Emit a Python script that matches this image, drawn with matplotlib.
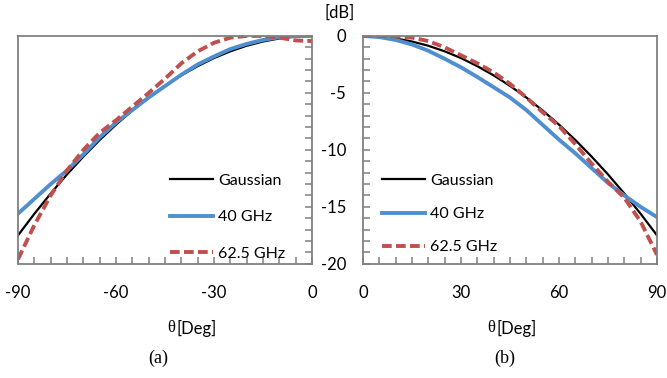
import numpy as np
import matplotlib.pyplot as plt
from matplotlib.ticker import MultipleLocator

# data (dB vs theta in degrees)
theta_a = [-90, -85, -80, -75, -70, -65, -60, -55, -50, -45, -40, -35, -30, -25, -20, -15, -10, -5, 0]
gauss_a = [-17.5, -15.61, -13.83, -12.15, -10.59, -9.13, -7.78, -6.54, -5.40, -4.38, -3.46, -2.65,
           -1.94, -1.35, -0.86, -0.49, -0.22, -0.05, 0]
ghz40_a = [-15.6, -14.3, -13.0, -11.8, -10.4, -8.9, -7.6, -6.5, -5.4, -4.4, -3.4, -2.5,
           -1.8, -1.15, -0.7, -0.35, -0.12, -0.02, 0]
ghz625_a = [-19.6, -16.6, -14.0, -11.8, -10.0, -8.5, -7.4, -6.2, -5.0, -3.75, -2.4, -1.35,
            -0.6, -0.15, 0, 0, -0.15, -0.4, -0.45]

theta_b = [0, 5, 10, 15, 20, 25, 30, 35, 40, 45, 50, 55, 60, 65, 70, 75, 80, 85, 90]
gauss_b = [0, -0.05, -0.22, -0.49, -0.86, -1.35, -1.94, -2.65, -3.46, -4.38, -5.40, -6.54,
           -7.78, -9.13, -10.59, -12.15, -13.83, -15.61, -17.5]
ghz40_b = [0, -0.1, -0.35, -0.75, -1.3, -2.0, -2.75, -3.6, -4.5, -5.4, -6.5, -7.8,
           -9.1, -10.3, -11.6, -12.9, -14.0, -15.0, -15.9]
ghz625_b = [0, 0, -0.05, -0.15, -0.45, -1.0, -1.7, -2.4, -3.2, -4.2, -5.4, -6.7,
            -7.9, -9.5, -11.2, -12.8, -14.2, -16.3, -19.2]

labels = ["Gaussian", "40 GHz", "62.5 GHz"]

plt.rcParams['font.family'] = ['Lato', 'DejaVu Sans']
plt.rcParams['axes.unicode_minus'] = False
spine_c = '#808080'

fig = plt.figure(figsize=(6.67, 3.78), dpi=100)
ax1 = fig.add_axes([0.027, 0.302, 0.441, 0.603])
ax2 = fig.add_axes([0.544, 0.302, 0.441, 0.603])

for ax, th, g, b, r in [(ax1, theta_a, gauss_a, ghz40_a, ghz625_a),
                        (ax2, theta_b, gauss_b, ghz40_b, ghz625_b)]:
    ax.plot(th, g, color='black', lw=1.6, label=labels[0])
    ax.plot(th, b, color='#4f8fd0', lw=2.8, label=labels[1])
    ax.plot(th, r, color='#c0504d', lw=2.8, ls=(0, (2.5, 1.1)), label=labels[2])
    ax.set_ylim(-20, 0)
    ax.xaxis.set_major_locator(MultipleLocator(30))
    ax.xaxis.set_minor_locator(MultipleLocator(5))
    ax.yaxis.set_major_locator(MultipleLocator(5))
    ax.yaxis.set_minor_locator(MultipleLocator(1))
    ax.tick_params(which='major', direction='in', length=5, width=1.1, color=spine_c, labelsize=12)
    ax.tick_params(which='minor', direction='in', length=5, width=1.1, color=spine_c)
    for s in ax.spines.values():
        s.set_color(spine_c)
        s.set_linewidth(1.3)

ax1.set_xlim(-90, 0)
ax2.set_xlim(0, 90)

# left panel: y ticks on the right spine, no labels
ax1.yaxis.set_ticks_position('right')
ax1.tick_params(axis='y', which='both', labelright=False, labelleft=False)
ax1.tick_params(axis='x', which='major', pad=15)
ax2.tick_params(axis='x', which='major', pad=15)
ax2.tick_params(axis='y', which='major', pad=12)

ax1.legend(loc='upper left', bbox_to_anchor=(0.517, 0.396), frameon=False, fontsize=11.5,
           borderpad=0, borderaxespad=0, handlelength=2.7, handletextpad=0.3, labelspacing=1.4)
ax2.legend(loc='upper left', bbox_to_anchor=(0.065, 0.396), frameon=False, fontsize=11.5,
           borderpad=0, borderaxespad=0, handlelength=2.7, handletextpad=0.3, labelspacing=1.2)

fig.text(340 / 667, 1 - 13 / 378, "[dB]", fontsize=12, ha='center', va='center')

for x_theta, x_deg in ((171, 177), (491, 497)):
    fig.text(x_theta / 667, 1 - 328 / 378, "θ", family='Liberation Serif', fontsize=12,
             ha='center', va='center')
    fig.text(x_deg / 667, 1 - 328 / 378, "[Deg]", fontsize=12, ha='left', va='center')

fig.text(158 / 667, 1 - 358 / 378, "(a)", family='Liberation Serif', fontsize=13, ha='center', va='center')
fig.text(505 / 667, 1 - 358 / 378, "(b)", family='Liberation Serif', fontsize=13, ha='center', va='center')

fig.savefig("out.png", dpi=100)
